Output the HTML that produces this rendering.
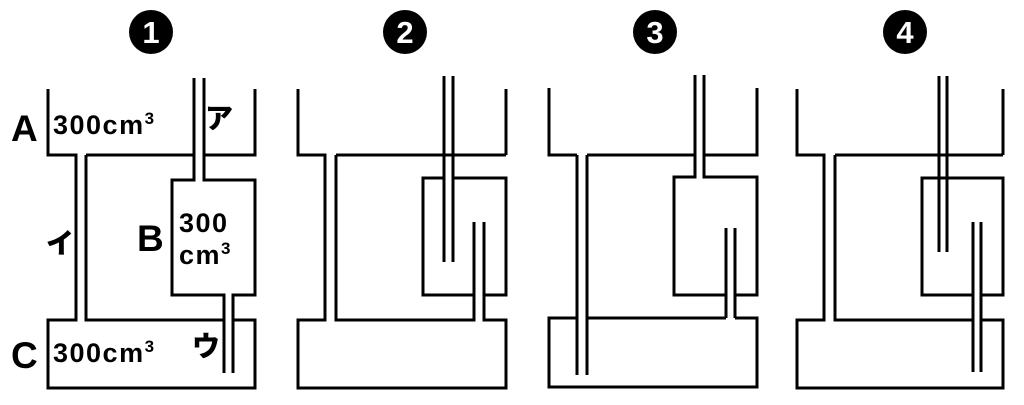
<!DOCTYPE html>
<html><head><meta charset="utf-8"><style>
html,body{margin:0;padding:0;background:#fff;}
svg{display:block;}
text{font-family:"Liberation Sans","Noto Sans CJK JP",sans-serif;font-weight:bold;fill:#000;}
.k{font-family:"Noto Sans CJK JP",sans-serif;font-weight:900;}
.v{letter-spacing:1.5px;}
</style></head><body>
<svg width="1024" height="405" viewBox="0 0 1024 405" xmlns="http://www.w3.org/2000/svg">
<g fill="none" stroke="#000" stroke-width="3" stroke-linejoin="miter" stroke-linecap="butt">
<polyline points="48,89 48,155 76,155 76,320 48,320 48,388 255,388 255,320 233,320"/>
<polyline points="86,155 86,320 224,320"/>
<polyline points="86,155 194,155"/>
<polyline points="194,78 194,180 172,180 172,295 224,295 224,373"/>
<polyline points="204,78 204,180 255,180 255,295 233,295 233,373"/>
<polyline points="204,155 255,155 255,89"/>
<polyline points="298,89 298,155 325,155 325,320 298,320 298,388 506,388 506,320 484,320 484,222"/>
<polyline points="336,155 336,320 474,320 474,222"/>
<line x1="336" y1="155" x2="506" y2="155"/>
<line x1="506" y1="155" x2="506" y2="89"/>
<line x1="444" y1="76" x2="444" y2="262"/>
<line x1="453" y1="76" x2="453" y2="262"/>
<polyline points="444,178 423,178 423,295 474,295"/>
<polyline points="453,178 506,178 506,295 484,295"/>
<polyline points="549,88 549,155 577,155"/>
<line x1="577" y1="155" x2="577" y2="375"/>
<line x1="587" y1="155" x2="587" y2="375"/>
<polyline points="587,155 695,155"/>
<polyline points="695,75 695,177 674,177 674,295 726,295"/>
<polyline points="704,75 704,177 757,177 757,295 735,295"/>
<polyline points="704,155 757,155 757,88"/>
<line x1="726" y1="228" x2="726" y2="318"/>
<line x1="735" y1="228" x2="735" y2="318"/>
<polyline points="577,318 549,318 549,387 757,387 757,318 735,318"/>
<line x1="587" y1="318" x2="726" y2="318"/>
<polyline points="797,89 797,155 824,155 824,320 797,320 797,388 1003,388 1003,320 981,320"/>
<polyline points="835,155 835,320 973,320"/>
<line x1="835" y1="155" x2="1003" y2="155"/>
<line x1="1003" y1="155" x2="1003" y2="89"/>
<line x1="939" y1="76" x2="939" y2="252"/>
<line x1="947" y1="76" x2="947" y2="252"/>
<polyline points="973,295 922,295 922,178 1003,178 1003,295 981,295"/>
<line x1="973" y1="222" x2="973" y2="372"/>
<line x1="981" y1="222" x2="981" y2="372"/>
</g>
<g>
<circle cx="151" cy="32" r="22" fill="#000"/>
<text x="151" y="43" font-size="31" text-anchor="middle" style="fill:#fff">1</text>
<circle cx="405" cy="32" r="22" fill="#000"/>
<text x="405" y="43" font-size="31" text-anchor="middle" style="fill:#fff">2</text>
<circle cx="655" cy="32" r="22" fill="#000"/>
<text x="655" y="43" font-size="31" text-anchor="middle" style="fill:#fff">3</text>
<circle cx="905" cy="32" r="22" fill="#000"/>
<text x="905" y="43" font-size="31" text-anchor="middle" style="fill:#fff">4</text>
</g>
<text x="11" y="141" font-size="37">A</text>
<text class="v" x="53" y="134" font-size="27">300cm<tspan font-size="17" dy="-10">3</tspan></text>
<text class="k" x="205" y="128" font-size="28">ア</text>
<text class="k" x="46" y="253" font-size="28">イ</text>
<text x="137" y="251" font-size="37">B</text>
<text class="v" x="179" y="232" font-size="27">300</text>
<text class="v" x="179" y="264" font-size="27">cm<tspan font-size="17" dy="-10">3</tspan></text>
<text x="11" y="368" font-size="37">C</text>
<text class="v" x="53" y="362" font-size="27">300cm<tspan font-size="17" dy="-10">3</tspan></text>
<text class="k" x="192" y="356" font-size="28">ウ</text>
</svg>
</body></html>
